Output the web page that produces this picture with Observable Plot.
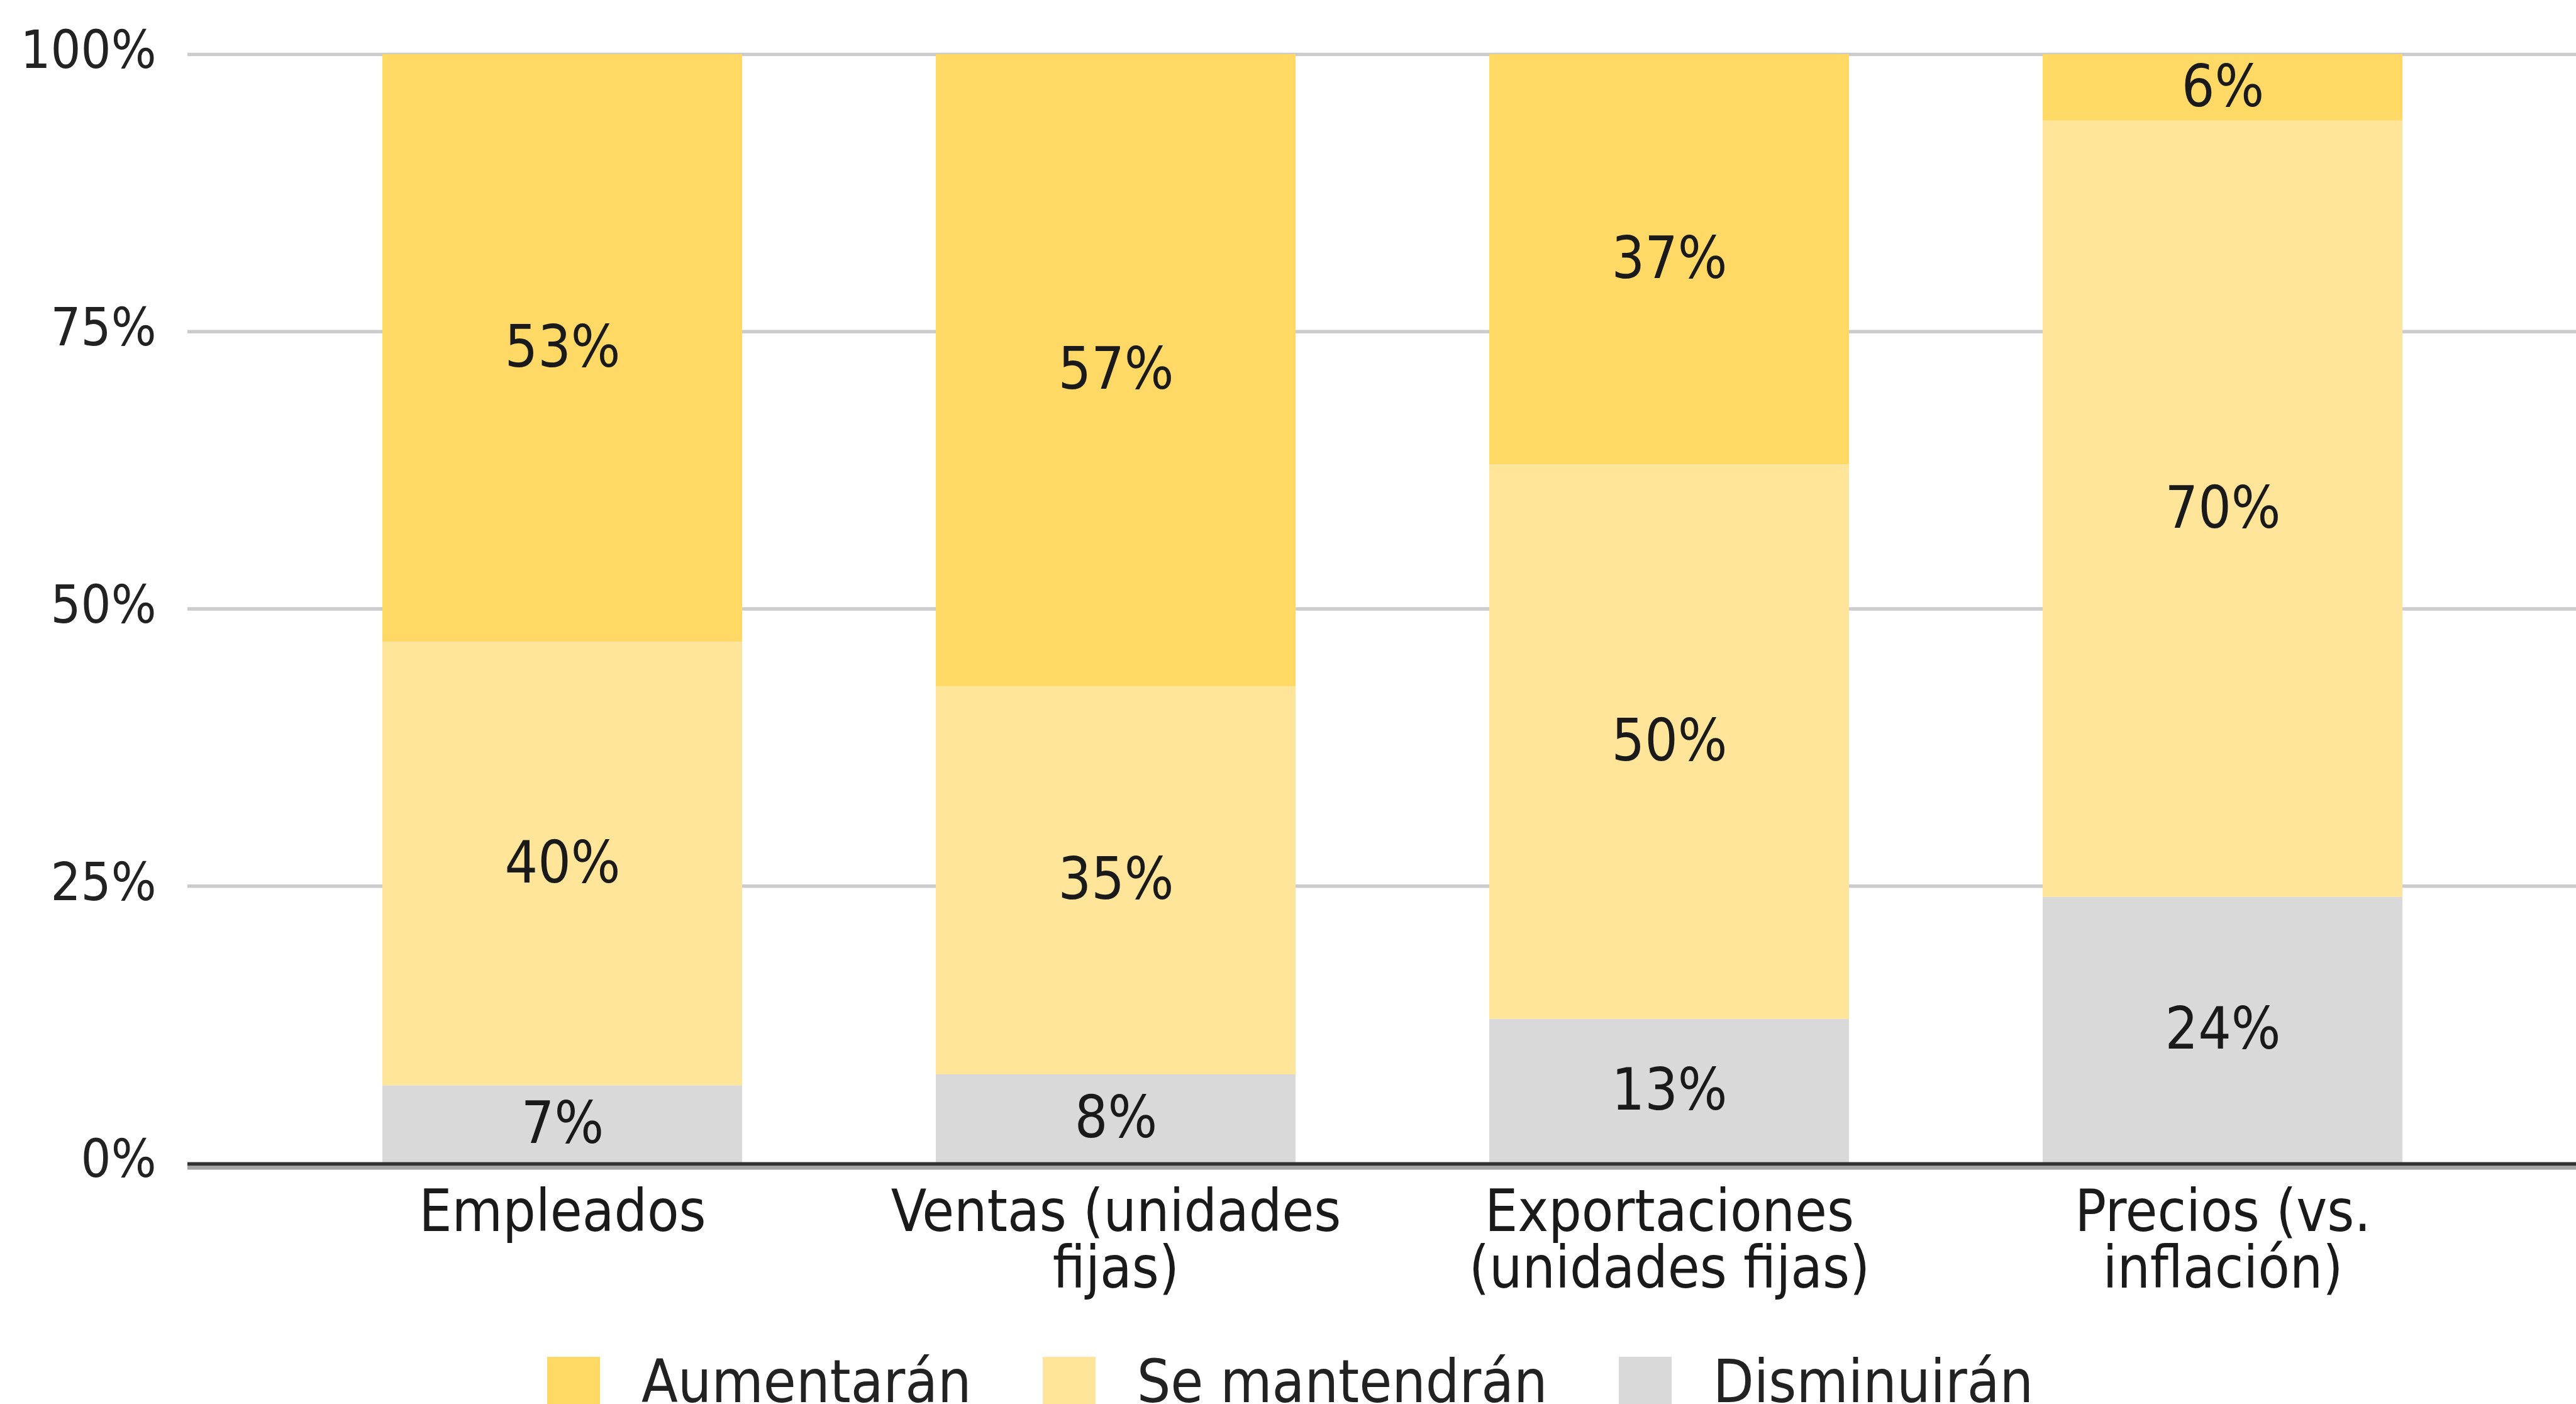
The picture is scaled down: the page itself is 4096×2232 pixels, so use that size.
<!DOCTYPE html>
<html>
<head>
<meta charset="utf-8">
<script src="https://cdn.jsdelivr.net/npm/d3@7"></script>
<script src="https://cdn.jsdelivr.net/npm/@observablehq/plot@0.6"></script>
<style>
  html, body { margin: 0; padding: 0; background: #ffffff; }
  #wrap { position: relative; width: 4096px; height: 2232px; overflow: hidden; background: #fff;
          font-family: "DejaVu Sans Condensed", "DejaVu Sans", sans-serif; font-stretch: condensed; color: #222; }
  #legend { position: absolute; top: 2150px; left: 870px; display: flex; align-items: flex-start; white-space: nowrap; }
  .sw { width: 84px; height: 84px; margin-top: 7px; }
  .lt { font-size: 94px; line-height: 1; margin-left: 66px; margin-right: 113px; }
</style>
</head>
<body>
<div id="wrap"></div>
<script>
const categories = ["Empleados", "Ventas (unidades fijas)", "Exportaciones (unidades fijas)", "Precios (vs. inflación)"];
const categoryLabels = ["Empleados", "Ventas (unidades\nfijas)", "Exportaciones\n(unidades fijas)", "Precios (vs.\ninflación)"];
const series = ["Aumentarán", "Se mantendrán", "Disminuirán"];
const aumentaran = [53, 57, 37, 6];
const mantendran = [40, 35, 50, 70];
const disminuiran = [7, 8, 13, 24];
const seriesColors = ["#ffd966", "#ffe599", "#d9d9d9"];
const yTicks = [0, 25, 50, 75, 100];

const valuesBySeries = [aumentaran, mantendran, disminuiran];
const rows = [];
categories.forEach((c, i) => {
  series.forEach((s, j) => rows.push({category: c, series: s, value: valuesBySeries[j][i]}));
});
const stackOrder = ["Disminuirán", "Se mantendrán", "Aumentarán"];
const fontFamily = '"DejaVu Sans Condensed", "DejaVu Sans", sans-serif';

const chart = Plot.plot({
  width: 4096,
  height: 2090,
  marginLeft: 298,
  marginRight: 0,
  marginTop: 86,
  marginBottom: 241,
  x: {domain: categories, range: [298, 4130], padding: 0.35, axis: null},
  y: {domain: [0, 100], label: null},
  color: {domain: series, range: seriesColors},
  style: {fontFamily, color: "#222", background: "white", fontStretch: "condensed"},
  marks: [
    Plot.ruleY(yTicks.filter(d => d > 0), {stroke: "#cccccc", strokeWidth: 5.5}),
    Plot.barY(rows, Plot.stackY({x: "category", y: "value", fill: "series", order: stackOrder})),
    Plot.textY(rows, Plot.stackY({x: "category", y: "value", z: "series", order: stackOrder,
      text: d => d.value + "%", fontSize: 92, fill: "#1a1a1a"})),
    Plot.ruleY([0], {stroke: "#333333", strokeWidth: 6, dy: 1}),
    Plot.ruleY([0], {stroke: "#a5a5a5", strokeWidth: 6, dy: 7}),
    Plot.axisY({ticks: yTicks, tickFormat: d => d + "%", tickSize: 0, tickPadding: 50, fontSize: 84, dy: -5, label: null}),
    Plot.text(categories, {x: d => d, text: (d, i) => categoryLabels[i], frameAnchor: "bottom",
      lineAnchor: "top", dy: 43, fontSize: 92, lineHeight: 0.98, fill: "#1a1a1a"})
  ]
});

const wrap = document.getElementById("wrap");
wrap.appendChild(chart);

const legend = document.createElement("div");
legend.id = "legend";
series.forEach((s, j) => {
  const sw = document.createElement("div");
  sw.className = "sw";
  sw.style.background = seriesColors[j];
  const lt = document.createElement("div");
  lt.className = "lt";
  lt.textContent = s;
  legend.appendChild(sw);
  legend.appendChild(lt);
});
wrap.appendChild(legend);
</script>
</body>
</html>
